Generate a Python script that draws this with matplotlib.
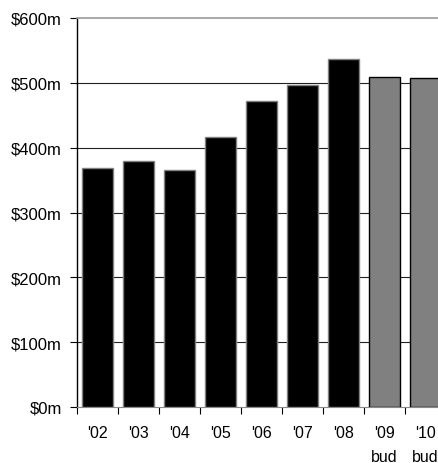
import matplotlib.pyplot as plt
import numpy as np

plt.rcParams['font.family'] = ['Liberation Sans', 'DejaVu Sans']

years = ["'02", "'03", "'04", "'05", "'06", "'07", "'08", "'09\nbud", "'10\nbud"]
spend = [368, 380, 365, 417, 472, 496, 537, 509, 507]
is_budget = [False] * 7 + [True] * 2
y_ticks = [0, 100, 200, 300, 400, 500, 600]
y_labels = ['$0m', '$100m', '$200m', '$300m', '$400m', '$500m', '$600m']

fig = plt.figure(figsize=(4.38, 4.64), dpi=100)
# axes runs past the right edge, like the clipped original
ax = fig.add_axes([77 / 438, 56 / 464, 369 / 438, 389 / 464])

x = np.arange(len(years))
colors = ['#808080' if b else '#000000' for b in is_budget]
edges = ['#000000' if b else '#808080' for b in is_budget]
ax.bar(x, spend, width=0.76, color=colors, edgecolor=edges, linewidth=1.0, zorder=3)

ax.set_xlim(-0.5, len(years) - 0.5)
ax.set_ylim(0, 600)
ax.set_yticks(y_ticks)
ax.set_yticklabels(y_labels, fontsize=12)
ax.set_xticks(x)
ax.set_xticklabels(years, fontsize=11.5, linespacing=1.75, va='top')
ax.set_xticks(np.arange(len(years) + 1) - 0.5, minor=True)
ax.tick_params(axis='x', which='major', length=0, pad=13)
ax.tick_params(axis='x', which='minor', length=5, color='#000000', width=0.8)
ax.tick_params(axis='y', length=5, width=0.8, pad=6)

for v in y_ticks[1:-1]:
    ax.axhline(v, color='#222222', lw=0.8, zorder=1)

ax.spines['top'].set_color('#999999')
ax.spines['top'].set_linewidth(1.2)
ax.spines['bottom'].set_color('#888888')
ax.spines['left'].set_color('#000000')
ax.spines['left'].set_linewidth(1.0)
ax.spines['right'].set_visible(False)

fig.savefig('out.png', dpi=100)
